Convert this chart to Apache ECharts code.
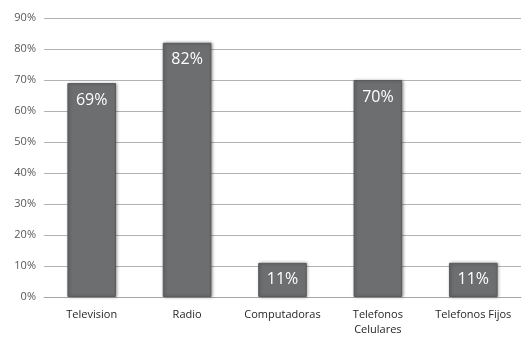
<!DOCTYPE html>
<html>
<head>
<meta charset="utf-8">
<script src="https://cdn.jsdelivr.net/npm/echarts@6/dist/echarts.min.js"></script>
<style>
  html, body { margin: 0; padding: 0; background: #fff; }
  #chart { width: 529px; height: 337px; }
</style>
</head>
<body>
<div id="chart"></div>
<script>
const categories = ['Television', 'Radio', 'Computadoras', 'Telefonos\nCelulares', 'Telefonos Fijos']
const values = [69, 82, 11, 70, 11]

const chart = echarts.init(document.getElementById('chart'))

const option = {
  backgroundColor: '#fff',
  animation: false,
  grid: {
    left: 44,
    right: 8,
    top: 18,
    bottom: 40
  },
  xAxis: {
    type: 'category',
    data: categories,
    axisLine: { lineStyle: { color: '#a6a6a6' } },
    axisTick: { show: false },
    axisLabel: {
      interval: 0,
      color: '#262626',
      fontSize: 11,
      fontFamily: 'Open Sans',
      margin: 10,
      lineHeight: 15
    }
  },
  yAxis: {
    type: 'value',
    min: 0,
    max: 90,
    interval: 10,
    axisLine: { show: false },
    axisTick: { show: false },
    axisLabel: {
      color: '#595959',
      fontSize: 11,
      fontFamily: 'Open Sans',
      margin: 8,
      formatter: '{value}%'
    },
    splitLine: { lineStyle: { color: '#b3b3b3', width: 1 } }
  },
  series: [{
    type: 'bar',
    data: values,
    barWidth: '51%',
    itemStyle: {
      color: '#6d6e70',
      borderColor: '#5a5b5d',
      borderWidth: 1,
      shadowColor: 'rgba(0, 0, 0, 0.35)',
      shadowBlur: 3,
      shadowOffsetX: 1,
      shadowOffsetY: 0
    },
    label: {
      show: true,
      position: 'insideTop',
      distance: 9,
      color: '#fff',
      fontSize: 16,
      fontFamily: 'Open Sans',
      formatter: '{c}%'
    }
  }]
}

chart.setOption(option)
</script>
</body>
</html>
